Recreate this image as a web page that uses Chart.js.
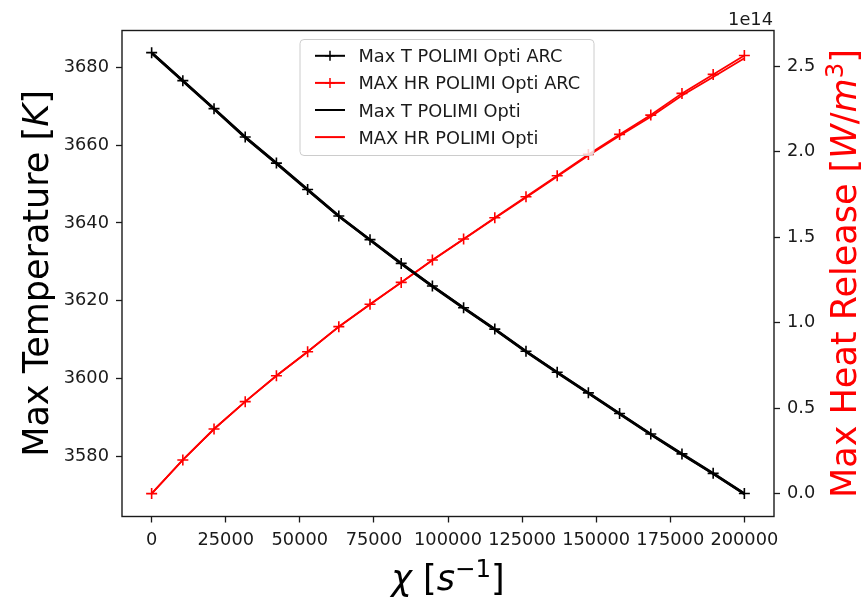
<!DOCTYPE html>
<html>
<head>
<meta charset="utf-8">
<script src="https://cdn.jsdelivr.net/npm/chart.js@4.4.0/dist/chart.umd.min.js"></script>
<style>
  html, body { margin: 0; padding: 0; background: #fff; }
  #wrap { width: 863px; height: 601px; }
</style>
</head>
<body>
<div id="wrap"><canvas id="dataChart" width="863" height="601"></canvas></div>
<script>
// strain rate chi [1/s]
const chi = [0, 10526, 21053, 31579, 42105, 52632, 63158, 73684, 84211, 94737,
             105263, 115789, 126316, 136842, 147368, 157895, 168421, 178947, 189474, 200000];

// max temperature [K]
const tMaxArc = [3683.8, 3676.6, 3669.4, 3662.1, 3655.4, 3648.6, 3641.8, 3635.7, 3629.6, 3623.8,
                 3618.2, 3612.7, 3607.0, 3601.6, 3596.3, 3591.0, 3585.7, 3580.6, 3575.6, 3570.4];
const tMaxOpti = [3683.7, 3676.5, 3669.3, 3662.0, 3655.3, 3648.5, 3641.7, 3635.6, 3629.5, 3623.7,
                  3618.1, 3612.6, 3606.9, 3601.5, 3596.2, 3590.9, 3585.6, 3580.5, 3575.5, 3570.3];

// max heat release [W/m3]
const hrMaxArc = [0, 0.197e14, 0.378e14, 0.538e14, 0.690e14, 0.830e14, 0.977e14, 1.108e14, 1.236e14, 1.367e14,
                  1.490e14, 1.614e14, 1.737e14, 1.860e14, 1.985e14, 2.102e14, 2.215e14, 2.342e14, 2.453e14, 2.564e14];
const hrMaxOpti = [0, 0.197e14, 0.378e14, 0.538e14, 0.690e14, 0.830e14, 0.976e14, 1.107e14, 1.235e14, 1.365e14,
                   1.488e14, 1.611e14, 1.733e14, 1.855e14, 1.978e14, 2.094e14, 2.205e14, 2.330e14, 2.438e14, 2.548e14];

// tick labels
const xTicks = [0, 25000, 50000, 75000, 100000, 125000, 150000, 175000, 200000];
const tTicks = [3580, 3600, 3620, 3640, 3660, 3680];
const hrTicks = [0, 0.5e14, 1.0e14, 1.5e14, 2.0e14, 2.5e14];

const FONT = '"DejaVu Sans", sans-serif';
const TICK_SIZE = 17.8;
const TITLE_SIZE = 35;
const INK = '#1a1a1a';

function pts(ys) {
    return chi.map((x, i) => ({ x: x, y: ys[i] }));
}

// mathtext-ish titles: pieces, some italic, some superscript
function partFont(p, size) {
    const s = p.sup ? size * 0.7 : size;
    return (p.it ? 'italic ' : '') + s + 'px ' + FONT;
}
function drawRich(ctx, parts, size, x, y, rot, color) {
    ctx.save();
    ctx.translate(x, y);
    ctx.rotate(rot);
    ctx.fillStyle = color;
    ctx.textAlign = 'left';
    ctx.textBaseline = 'alphabetic';
    let w = 0;
    parts.forEach(p => { ctx.font = partFont(p, size); w += ctx.measureText(p.t).width; });
    let cx = -w / 2;
    parts.forEach(p => {
        ctx.font = partFont(p, size);
        ctx.fillText(p.t, cx, p.sup ? -size * 0.38 : 0);
        cx += ctx.measureText(p.t).width;
    });
    ctx.restore();
}

const decor = {
    id: 'decor',
    afterDraw(chart) {
        const ctx = chart.ctx;
        const a = chart.chartArea;

        // axes frame
        ctx.save();
        ctx.strokeStyle = INK;
        ctx.lineWidth = 1.4;
        ctx.strokeRect(a.left, a.top, a.right - a.left, a.bottom - a.top);
        ctx.restore();

        // legend box
        const lx = 300, ly = 39.5, lw = 294, lh = 116;
        ctx.save();
        ctx.fillStyle = 'rgba(255,255,255,0.8)';
        ctx.strokeStyle = '#cccccc';
        ctx.lineWidth = 1;
        ctx.beginPath();
        ctx.roundRect(lx, ly, lw, lh, 4);
        ctx.fill();
        ctx.stroke();
        ctx.font = TICK_SIZE + 'px ' + FONT;
        ctx.textBaseline = 'alphabetic';
        ctx.fillStyle = INK;
        chart.data.datasets.forEach((ds, i) => {
            const base = 62.3 + i * 27.1;
            const my = base - 6.5;
            ctx.strokeStyle = ds.borderColor;
            ctx.lineWidth = 2;
            ctx.beginPath();
            ctx.moveTo(315, my);
            ctx.lineTo(345, my);
            ctx.stroke();
            if (ds.pointRadius > 0) {
                ctx.lineWidth = 1.5;
                ctx.beginPath();
                ctx.moveTo(330 - 5, my); ctx.lineTo(330 + 5, my);
                ctx.moveTo(330, my - 5); ctx.lineTo(330, my + 5);
                ctx.stroke();
            }
            ctx.fillText(ds.label, 358.5, base);
        });
        ctx.restore();

        // offset text of the right axis
        ctx.save();
        ctx.font = TICK_SIZE + 'px ' + FONT;
        ctx.fillStyle = INK;
        ctx.textAlign = 'right';
        ctx.textBaseline = 'alphabetic';
        ctx.fillText('1e14', a.right - 1, 25);
        ctx.restore();

        // axis titles
        const midY = (a.top + a.bottom) / 2;
        drawRich(ctx, [{ t: 'Max Temperature ' }, { t: '[' }, { t: 'K', it: true }, { t: ']' }],
            TITLE_SIZE, 48, midY, -Math.PI / 2, '#000');
        drawRich(ctx, [{ t: 'Max Heat Release ' }, { t: '[' }, { t: 'W', it: true }, { t: '/' },
                       { t: 'm', it: true }, { t: '3', sup: true }, { t: ']' }],
            TITLE_SIZE, 856, midY, -Math.PI / 2, '#ff0000');
        drawRich(ctx, [{ t: 'χ', it: true }, { t: ' ' }, { t: '[' }, { t: 's', it: true },
                       { t: '−1', sup: true }, { t: ']' }],
            TITLE_SIZE, (a.left + a.right) / 2, 590, 0, '#000');
    }
};

function tickGrid() {
    return {
        display: true,
        drawOnChartArea: false,
        drawTicks: true,
        tickLength: 6,
        tickWidth: 1.3,
        tickColor: INK
    };
}

function createGraph() {
    const ctx = document.getElementById('dataChart').getContext('2d');
    new Chart(ctx, {
        type: 'line',
        data: {
            datasets: [{
                label: 'Max T POLIMI Opti ARC',
                data: pts(tMaxArc),
                yAxisID: 'y',
                borderColor: '#000000',
                borderWidth: 2.6,
                pointStyle: 'cross',
                pointRadius: 5.5,
                pointBorderWidth: 1.6,
                pointBorderColor: '#000000',
                tension: 0
            }, {
                label: 'MAX HR POLIMI Opti ARC',
                data: pts(hrMaxArc),
                yAxisID: 'y1',
                borderColor: '#ff0000',
                borderWidth: 1.8,
                pointStyle: 'cross',
                pointRadius: 5.5,
                pointBorderWidth: 1.6,
                pointBorderColor: '#ff0000',
                tension: 0
            }, {
                label: 'Max T POLIMI Opti',
                data: pts(tMaxOpti),
                yAxisID: 'y',
                borderColor: '#000000',
                borderWidth: 2.6,
                pointRadius: 0,
                tension: 0
            }, {
                label: 'MAX HR POLIMI Opti',
                data: pts(hrMaxOpti),
                yAxisID: 'y1',
                borderColor: '#ff0000',
                borderWidth: 1.8,
                pointRadius: 0,
                tension: 0
            }]
        },
        options: {
            responsive: false,
            animation: false,
            devicePixelRatio: 1,
            layout: { padding: { top: 30.5, left: 0, right: 0, bottom: 0 } },
            scales: {
                x: {
                    type: 'linear',
                    position: 'bottom',
                    min: -10000,
                    max: 210000,
                    afterBuildTicks: s => { s.ticks = xTicks.map(v => ({ value: v })); },
                    afterFit: s => { s.height = 84.5; },
                    grid: tickGrid(),
                    border: { display: false },
                    ticks: {
                        padding: 7,
                        color: INK,
                        font: { family: FONT, size: TICK_SIZE },
                        maxRotation: 0,
                        callback: v => String(v)
                    }
                },
                y: {
                    type: 'linear',
                    position: 'left',
                    min: 3564.5,
                    max: 3689.5,
                    afterBuildTicks: s => { s.ticks = tTicks.map(v => ({ value: v })); },
                    afterFit: s => { s.width = 122; },
                    grid: tickGrid(),
                    border: { display: false },
                    ticks: {
                        padding: 7,
                        color: INK,
                        font: { family: FONT, size: TICK_SIZE },
                        callback: v => String(v)
                    }
                },
                y1: {
                    type: 'linear',
                    position: 'right',
                    min: -0.134e14,
                    max: 2.71e14,
                    afterBuildTicks: s => { s.ticks = hrTicks.map(v => ({ value: v })); },
                    afterFit: s => { s.width = 89; },
                    grid: tickGrid(),
                    border: { display: false },
                    ticks: {
                        padding: 7,
                        color: INK,
                        font: { family: FONT, size: TICK_SIZE },
                        callback: v => (v / 1e14).toFixed(1)
                    }
                }
            },
            plugins: {
                legend: { display: false },
                tooltip: { enabled: false }
            }
        },
        plugins: [decor]
    });
}

window.onload = function() {
    createGraph();
};
</script>
</body>
</html>
